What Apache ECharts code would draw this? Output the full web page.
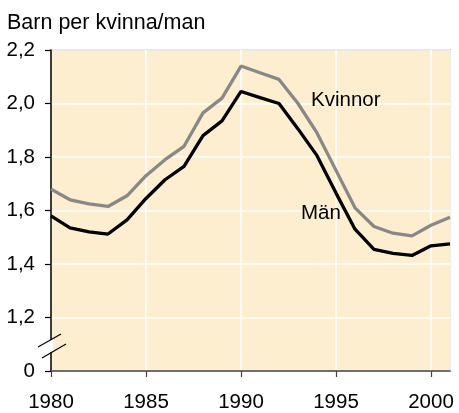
<!DOCTYPE html>
<html><head><meta charset="utf-8">
<script src="https://cdn.jsdelivr.net/npm/echarts@6/dist/echarts.min.js"></script>
<style>html,body{margin:0;padding:0;background:#fff}#c{width:459px;height:413px}</style>
</head><body><div id="c"></div>
<script>
const years = [1980,1981,1982,1983,1984,1985,1986,1987,1988,1989,1990,1991,1992,1993,1994,1995,1996,1997,1998,1999,2000,2001];
const kvinnor = [1.68,1.64,1.625,1.615,1.655,1.73,1.79,1.84,1.965,2.02,2.14,2.115,2.09,2.0,1.89,1.75,1.61,1.54,1.515,1.505,1.545,1.575];
const man = [1.58,1.535,1.52,1.512,1.565,1.645,1.715,1.765,1.88,1.935,2.045,2.022,2.0,1.905,1.805,1.665,1.53,1.455,1.44,1.432,1.468,1.475];
const yTicks = {min:1.0, max:2.2, step:0.2};
const FONT = '"Liberation Sans", Arial, sans-serif';
const chart = echarts.init(document.getElementById('c'), null, {renderer:'canvas'});
chart.setOption({
  animation:false,
  backgroundColor:'#ffffff',
  textStyle:{fontFamily:FONT},
  title:{text:'Barn per kvinna/man', left:2, top:7, textStyle:{fontSize:21.5, fontWeight:'normal', color:'#000', fontFamily:FONT}},
  grid:{left:51, right:9, top:50, bottom:40, show:true, backgroundColor:'#FCEECF', borderColor:'#8a8a8a', borderWidth:1.5},
  xAxis:{type:'value', min:1980, max:2001, interval:5,
    axisLine:{show:true, lineStyle:{color:'#444', width:1.5}},
    axisTick:{show:true, length:6, lineStyle:{color:'#444', width:1.2}},
    axisLabel:{fontSize:20.5, color:'#000', margin:21, showMaxLabel:false, formatter:v=>String(v)},
    splitLine:{show:true, lineStyle:{color:'#ffffff', width:1.6}}},
  yAxis:{type:'value', min:yTicks.min, max:yTicks.max, interval:yTicks.step,
    axisLine:{show:true, lineStyle:{color:'#000', width:1.5}},
    axisTick:{show:true, length:6, lineStyle:{color:'#000', width:1.2}},
    axisLabel:{fontSize:20.5, color:'#000', margin:16,
      formatter:v=>Math.abs(v-yTicks.min)<1e-9 ? '0' : v.toFixed(1).replace('.',',')},
    splitLine:{show:true, lineStyle:{color:'#ffffff', width:1.6}}},
  series:[
    {name:'Män', type:'line', data:years.map((y,i)=>[y,man[i]]), showSymbol:false, symbol:'none',
      lineStyle:{color:'#000', width:3.3}, z:3},
    {name:'Kvinnor', type:'line', data:years.map((y,i)=>[y,kvinnor[i]]), showSymbol:false, symbol:'none',
      lineStyle:{color:'#888888', width:3.3}, z:4}
  ],
  graphic:[
    {type:'rect', shape:{x:49, y:340, width:4, height:12}, style:{fill:'#ffffff'}, z:100},
    {type:'line', shape:{x1:38, y1:347, x2:61, y2:334}, style:{stroke:'#000', lineWidth:1.2}, z:101},
    {type:'line', shape:{x1:42, y1:358, x2:66, y2:344}, style:{stroke:'#000', lineWidth:1.2}, z:101},
    {type:'text', left:311, top:90, style:{text:'Kvinnor', fontSize:20.5, fill:'#000', fontFamily:FONT}, z:102},
    {type:'text', left:301, top:203, style:{text:'Män', fontSize:20.5, fill:'#000', fontFamily:FONT}, z:102}
  ]
});
</script></body></html>
